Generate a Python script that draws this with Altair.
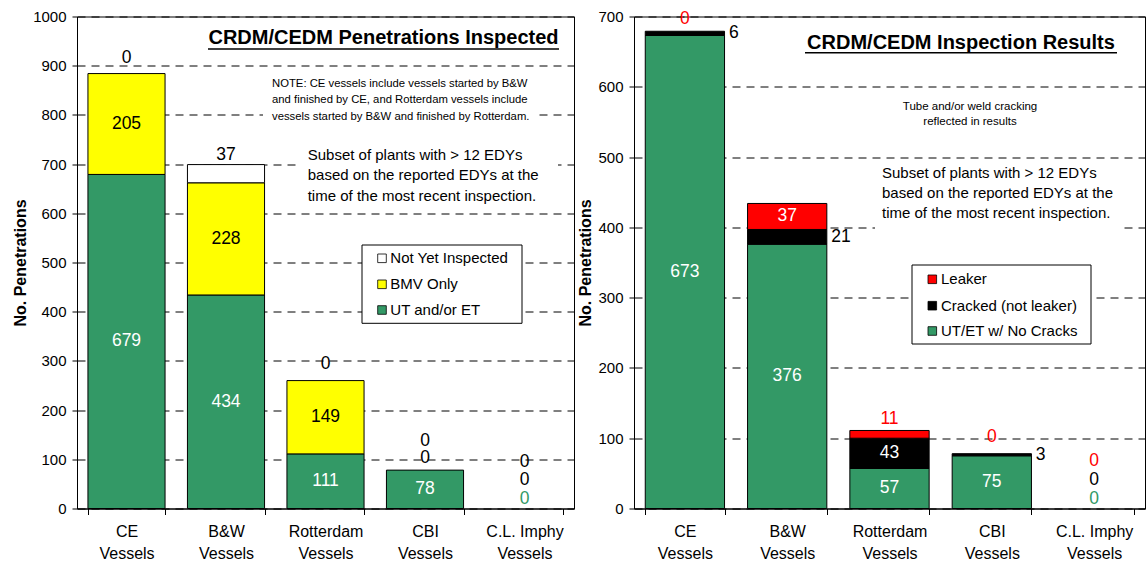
import altair as alt
import pandas as pd

# ---------------- data ----------------
vessels = ["CE", "B&W", "Rotterdam", "CBI", "C.L. Imphy"]

# Left panel: CRDM/CEDM Penetrations Inspected
ut_et = [679, 434, 111, 78, 0]
bmv_only = [205, 228, 149, 0, 0]
not_yet = [0, 37, 0, 0, 0]
left_series = ["UT and/or ET", "BMV Only", "Not Yet Inspected"]

# Right panel: CRDM/CEDM Inspection Results
no_cracks = [673, 376, 57, 75, 0]
cracked = [6, 21, 43, 3, 0]
leaker = [0, 37, 11, 0, 0]
right_series = ["UT/ET w/ No Cracks", "Cracked (not leaker)", "Leaker"]

left_ticks = list(range(0, 1001, 100))
right_ticks = list(range(0, 701, 100))

# ---------------- style ----------------
GREEN = "#339966"
YELLOW = "#FFFF00"
RED = "#FF0000"
BLACK = "#000000"
WHITE = "#FFFFFF"
FONT = "Liberation Sans"
PLOT_H = 492
LEFT_W = 497
RIGHT_W = 511
LABEL_SIZE = 17.5

dummy = pd.DataFrame({"d": [0]})


def segments(names, values):
    rows = []
    for i, v in enumerate(vessels):
        base = 0
        for name, vals in zip(names, values):
            val = vals[i]
            rows.append(dict(vessel=v, series=name, value=val, start=base,
                             end=base + val, mid=base + val / 2))
            base += val
    return pd.DataFrame(rows)


def label_table(seg, default_colors, overrides, ymax):
    per_px = ymax / PLOT_H
    rows = []
    for _, r in seg.iterrows():
        mode, px, color = overrides.get((r.vessel, r.series),
                                        ("mid", 0, default_colors[r.series]))
        if mode in ("mid", "right"):
            anchor = r.mid
        else:
            anchor = r.end + px * per_px
        rows.append(dict(vessel=r.vessel, anchor=anchor, label=str(int(r.value)),
                         color=color, mode=mode))
    return pd.DataFrame(rows)


def txt(x, y, text, size, weight="normal", align="left", lh=None, color=BLACK):
    props = dict(text=text, fontSize=size, font=FONT, align=align,
                 baseline="middle", color=color, fontWeight=weight)
    if lh:
        props["lineHeight"] = lh
    return alt.Chart(dummy).mark_text(**props).encode(x=alt.value(x), y=alt.value(y))


def box(x1, x2, y1, y2, stroke=None):
    props = dict(fill=WHITE)
    if stroke:
        props.update(stroke=stroke, strokeWidth=1)
    return alt.Chart(dummy).mark_rect(**props).encode(
        x=alt.value(x1), x2=alt.value(x2), y=alt.value(y1), y2=alt.value(y2))


def underline(x1, x2, y):
    return alt.Chart(dummy).mark_rule(color=BLACK, strokeWidth=1.5).encode(
        x=alt.value(x1), x2=alt.value(x2), y=alt.value(y))


def legend(bx, items, sym_x, text_x, half=4.3, size=15):
    layers = [box(*bx, stroke=BLACK)]
    for name, color, yc in items:
        layers.append(alt.Chart(dummy).mark_rect(fill=color, stroke=BLACK, strokeWidth=0.8).encode(
            x=alt.value(sym_x), x2=alt.value(sym_x + 2 * half),
            y=alt.value(yc - half), y2=alt.value(yc + half)))
        layers.append(txt(text_x, yc, name, size))
    return layers


def panel(seg, labels, domain, rng, ymax, ticks, width, extra):
    xs = alt.X("vessel:N", sort=vessels,
               scale=alt.Scale(paddingInner=0.225, paddingOuter=0.11),
               axis=alt.Axis(title=None,
                             labelExpr="datum.label ? [datum.label, 'Vessels'] : ''",
                             tickBand="extent", labelAngle=0, labelFontSize=16,
                             labelLineHeight=22, labelPadding=9, tickSize=6,
                             grid=False, labelFont=FONT))
    yaxis = alt.Axis(title="No. Penetrations", values=ticks, format="d", grid=True,
                     gridColor=BLACK, gridDash=[8, 6], gridWidth=1,
                     labelFontSize=15, titleFontSize=16, titleFontWeight="bold",
                     tickSize=5, labelPadding=6, titlePadding=4,
                     labelFont=FONT, titleFont=FONT)
    yscale = alt.Scale(domain=[0, ymax], nice=False)

    bars = alt.Chart(seg[seg.value > 0]).mark_bar(stroke=BLACK, strokeWidth=1).encode(
        x=xs,
        y=alt.Y("start:Q", scale=yscale, axis=yaxis),
        y2="end:Q",
        color=alt.Color("series:N", scale=alt.Scale(domain=domain, range=rng), legend=None),
    )
    center = alt.Chart(labels[labels["mode"] != "right"]).mark_text(
        font=FONT, fontSize=LABEL_SIZE, baseline="middle", align="center").encode(
        x=xs, y=alt.Y("anchor:Q", scale=yscale, axis=yaxis),
        text="label:N", color=alt.Color("color:N", scale=None))
    layers = [bars, center]
    side = labels[labels["mode"] == "right"]
    if len(side):
        layers.append(alt.Chart(side).mark_text(
            font=FONT, fontSize=LABEL_SIZE, baseline="middle", align="left", dx=44).encode(
            x=xs, y=alt.Y("anchor:Q", scale=yscale, axis=yaxis),
            text="label:N", color=alt.Color("color:N", scale=None)))
    return alt.layer(*layers, *extra).properties(width=width, height=PLOT_H)


SUBSET = ["Subset of plants with > 12 EDYs",
          "based on the reported EDYs at the",
          "time of the most recent inspection."]

# ---------------- left panel ----------------
lseg = segments(left_series, [ut_et, bmv_only, not_yet])
l_over = {
    ("CE", "Not Yet Inspected"): ("above", 16, BLACK),
    ("B&W", "Not Yet Inspected"): ("above", 9.5, BLACK),
    ("Rotterdam", "Not Yet Inspected"): ("above", 17, BLACK),
    ("CBI", "BMV Only"): ("above", 12, BLACK),
    ("CBI", "Not Yet Inspected"): ("above", 29, BLACK),
    ("C.L. Imphy", "UT and/or ET"): ("above", 10, GREEN),
    ("C.L. Imphy", "BMV Only"): ("above", 29, BLACK),
    ("C.L. Imphy", "Not Yet Inspected"): ("above", 47, BLACK),
}
llab = label_table(lseg, {"UT and/or ET": WHITE, "BMV Only": BLACK,
                          "Not Yet Inspected": BLACK}, l_over, 1000)
left_extra = [
    txt(306.5, 21.5, "CRDM/CEDM Penetrations Inspected", 20, "bold", "center"),
    underline(131, 482, 32.5),
    box(186, 461, 55.5, 108.5),
    txt(195, 67, ["NOTE:  CE vessels include vessels started by B&W",
                  "and finished by CE, and Rotterdam vessels include",
                  "vessels started by B&W and finished by Rotterdam."], 11.3, lh=16.5),
    box(224, 481, 126.5, 189.5),
    txt(230.7, 138.5, SUBSET, 15, lh=20.3),
] + legend((285, 445, 228.5, 306.8),
           [("Not Yet Inspected", WHITE, 241.8), ("BMV Only", YELLOW, 267.8),
            ("UT and/or ET", GREEN, 293.5)], 300.7, 313.3)

left = panel(lseg, llab, left_series, [GREEN, YELLOW, WHITE], 1000, left_ticks,
             LEFT_W, left_extra)

# ---------------- right panel ----------------
rseg = segments(right_series, [no_cracks, cracked, leaker])
r_over = {
    ("CE", "Cracked (not leaker)"): ("right", 0, BLACK),
    ("B&W", "Cracked (not leaker)"): ("right", 0, BLACK),
    ("CBI", "Cracked (not leaker)"): ("right", 0, BLACK),
    ("CE", "Leaker"): ("above", 12, RED),
    ("Rotterdam", "Leaker"): ("above", 11, RED),
    ("CBI", "Leaker"): ("above", 17, RED),
    ("C.L. Imphy", "UT/ET w/ No Cracks"): ("above", 10, GREEN),
    ("C.L. Imphy", "Cracked (not leaker)"): ("above", 29, BLACK),
    ("C.L. Imphy", "Leaker"): ("above", 48, RED),
}
rlab = label_table(rseg, {"UT/ET w/ No Cracks": WHITE, "Cracked (not leaker)": WHITE,
                          "Leaker": WHITE}, r_over, 700)
right_extra = [
    txt(327, 26.5, "CRDM/CEDM Inspection Results", 20, "bold", "center"),
    underline(171, 483, 36.2),
    txt(336, 90.5, ["Tube and/or weld cracking", "reflected in results"], 11.5,
        align="center", lh=14.5),
    box(241, 488, 143.5, 215.5),
    txt(248, 156.5, SUBSET, 15, lh=20.2),
] + legend((278, 457, 248.5, 327.5),
           [("Leaker", RED, 262.8), ("Cracked (not leaker)", BLACK, 289.2),
            ("UT/ET w/ No Cracks", GREEN, 314.5)], 294, 307)

right = panel(rseg, rlab, right_series, [GREEN, BLACK, RED], 700, right_ticks,
              RIGHT_W, right_extra)

chart = alt.hconcat(left, right, spacing=60, bounds="flush").resolve_scale(
    x="independent", y="independent", color="independent"
).properties(
    padding={"left": 12, "top": 8.5, "right": 0, "bottom": 0},
    background="white",
).configure_view(stroke=BLACK, strokeWidth=1).configure_axis(
    domainColor=BLACK, tickColor=BLACK, labelColor=BLACK, titleColor=BLACK,
    domainWidth=1, tickWidth=1
)

chart.save("out.html", embed_options={"renderer": "svg", "actions": False})
